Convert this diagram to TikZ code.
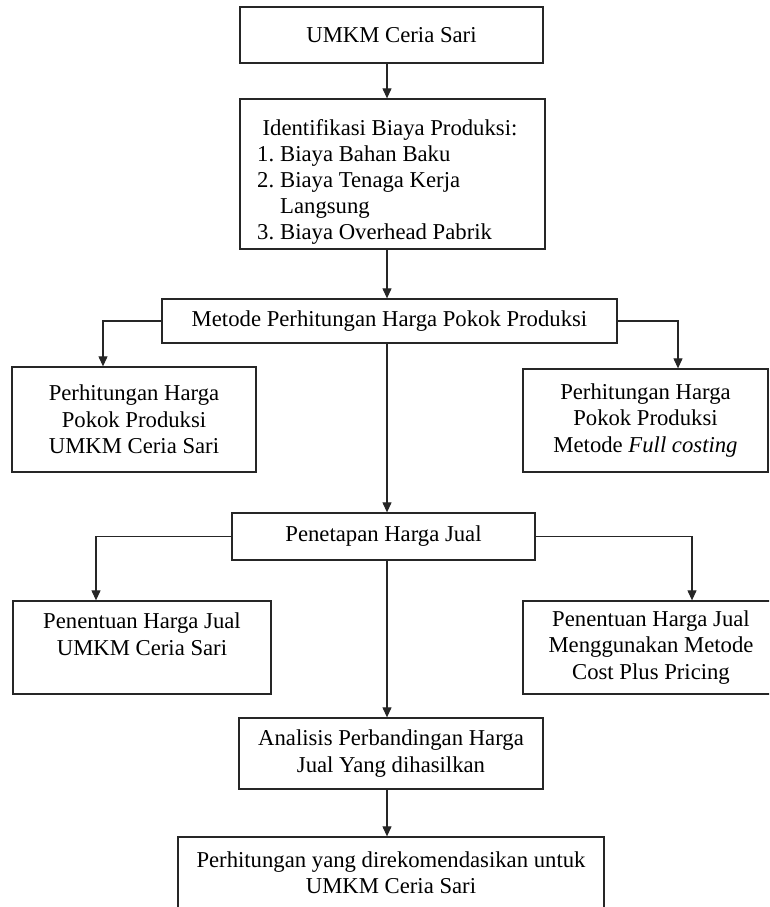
\documentclass[tikz,border=0pt]{standalone}
\usepackage{fontspec}
\setmainfont{Liberation Serif}
\usetikzlibrary{arrows.meta}
\begin{document}
\begin{tikzpicture}[x=1pt,y=-1pt,
  box/.style={draw=black!85, line width=1.3pt, rectangle, inner sep=0pt, align=center,
              font=\fontsize{22.7}{26.5}\selectfont},
  txt/.style={inner sep=0pt, font=\fontsize{22.7}{26.5}\selectfont},
  link/.style={draw=black!85, line width=1.1pt},
  arr/.style={link, -{Triangle[length=10pt,width=9pt]}}]
\path[use as bounding box] (0,0) rectangle (769,907);
\clip (0,0) rectangle (769,907);

\coordinate (cx) at (387,0);
\coordinate (l1) at (103,0);
\coordinate (r1) at (678,0);
\coordinate (l2) at (96,0);
\coordinate (r2) at (692,0);

\node[box, minimum width=303pt, minimum height=56pt] (b1) at (391.5,35) {UMKM Ceria Sari};
\node[box, minimum width=305pt, minimum height=150pt] (b2) at (392.5,174) {};
\node[txt, anchor=base] (t0) at (390,135) {Identifikasi Biaya Produksi:};
\node[txt, anchor=base west] (n1) at (257,161.2) {1.};
\node[txt, anchor=base west] (i1) at (280,161.2) {Biaya Bahan Baku};
\node[txt, anchor=base west] (n2) at (257,187.4) {2.};
\node[txt, anchor=base west] (i2) at (280,187.4) {Biaya Tenaga Kerja};
\node[txt, anchor=base west] (i2b) at (280,213.6) {Langsung};
\node[txt, anchor=base west] (n3) at (257,239.8) {3.};
\node[txt, anchor=base west] (i3) at (280,239.8) {Biaya Overhead Pabrik};

\node[box, minimum width=455pt, minimum height=44pt] (b3) at (389.5,321) {Metode Perhitungan Harga Pokok Produksi};
\node[box, minimum width=244pt, minimum height=105pt] (b4) at (134,419.5) {Perhitungan Harga\\Pokok Produksi\\UMKM Ceria Sari};
\node[box, minimum width=245pt, minimum height=103pt] (b5) at (645.5,420.5) {Perhitungan Harga\\Pokok Produksi\\Metode \textit{Full costing}};
\node[box, minimum width=303pt, minimum height=47pt] (b6) at (383.5,536.5) {Penetapan Harga Jual};
\node[box, minimum width=258pt, minimum height=93pt] (b7) at (142,647.5) {Penentuan Harga Jual\\UMKM Ceria Sari\\\mbox{}};
\node[box, minimum width=256pt, minimum height=93pt] (b8) at (651,647.5) {Penentuan Harga Jual\\Menggunakan Metode\\Cost Plus Pricing};
\node[box, minimum width=304pt, minimum height=71pt] (b9) at (391,753.5) {Analisis Perbandingan Harga\\Jual Yang dihasilkan};
\node[box, minimum width=426pt, minimum height=71pt] (b10) at (391,872.5) {Perhitungan yang direkomendasikan untuk\\UMKM Ceria Sari};

\draw[arr] (b1.south -| cx) -- (b2.north -| cx);
\draw[arr] (b2.south -| cx) -- (b3.north -| cx);
\draw[arr] (b3.west) -| (l1 |- b4.north);
\draw[arr] (b3.east) -| (r1 |- b5.north);
\draw[arr] (b3.south -| cx) -- (b6.north -| cx);
\draw[arr] (b6.west) -| (l2 |- b7.north);
\draw[arr] (b6.east) -| (r2 |- b8.north);
\draw[arr] (b6.south -| cx) -- (b9.north -| cx);
\draw[arr] (b9.south -| cx) -- (b10.north -| cx);
\end{tikzpicture}
\end{document}
